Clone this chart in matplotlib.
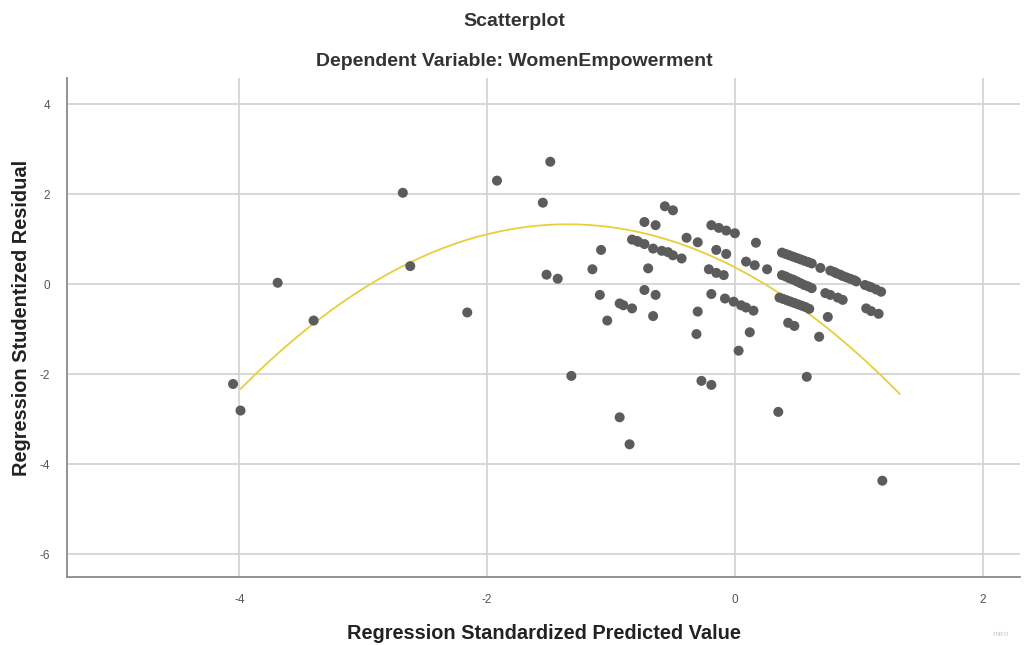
import matplotlib.pyplot as plt
import numpy as np

plt.rcParams['font.family'] = ['Liberation Sans', 'DejaVu Sans']
plt.rcParams['axes.unicode_minus'] = False

# predicted (x) and studentized residual (y)
pred = [-4.05, -3.99, -3.69, -3.40, -2.68, -2.62, -2.16, -1.92, -1.49, -1.55,
        -1.52, -1.43, -1.32, -1.15, -1.08, -1.09, -0.93, -0.90, -0.83, -1.03,
        -0.73, -0.64, -0.66, -0.70, -0.93, -0.85, -0.565, -0.50, -0.73, -0.64,
        -0.83, -0.78, -0.73, -0.66, -0.59, -0.50, -0.43, -0.39, -0.30, -0.19,
        -0.13, -0.07, 0.00, -0.15, -0.07, 0.09, 0.16, 0.26, 0.17, -0.21,
        -0.15, -0.09, -0.19, -0.08, -0.01, 0.05, 0.09, 0.15, -0.30, -0.31,
        0.12, 0.03, -0.27, -0.19,
        0.38, 0.41, 0.44, 0.47, 0.50, 0.53, 0.56, 0.59, 0.62, 0.69,
        0.77, 0.80, 0.82, 0.85, 0.87, 0.90, 0.93, 0.96, 0.98,
        1.05, 1.08, 1.10, 1.14, 1.18,
        0.38, 0.41, 0.44, 0.47, 0.50, 0.53, 0.56, 0.59, 0.62,
        0.73, 0.77, 0.83, 0.87,
        0.36, 0.39, 0.42, 0.45, 0.48, 0.51, 0.54, 0.57, 0.60,
        0.75, 1.06, 1.10, 1.16,
        0.43, 0.48, 0.68, 0.58, 0.35, 1.19, -0.54, -0.79]
resid = [-2.22, -2.81, 0.03, -0.81, 2.03, 0.40, -0.63, 2.30, 2.72, 1.81,
         0.21, 0.12, -2.04, 0.33, 0.76, -0.24, -0.43, -0.47, -0.54, -0.81,
         -0.13, -0.24, -0.71, 0.35, -2.96, -3.56, 1.73, 1.64, 1.38, 1.31,
         0.99, 0.94, 0.89, 0.79, 0.74, 0.64, 0.57, 1.03, 0.93, 1.31,
         1.25, 1.19, 1.13, 0.76, 0.67, 0.50, 0.42, 0.33, 0.92, 0.33,
         0.25, 0.20, -0.22, -0.32, -0.39, -0.47, -0.52, -0.59, -0.61, -1.11,
         -1.07, -1.48, -2.15, -2.24,
         0.70, 0.67, 0.64, 0.61, 0.58, 0.55, 0.52, 0.49, 0.46, 0.36,
         0.30, 0.27, 0.24, 0.21, 0.18, 0.15, 0.12, 0.09, 0.06,
         -0.02, -0.05, -0.07, -0.12, -0.17,
         0.20, 0.17, 0.13, 0.10, 0.06, 0.02, -0.02, -0.05, -0.09,
         -0.20, -0.24, -0.30, -0.35,
         -0.30, -0.33, -0.36, -0.39, -0.42, -0.45, -0.48, -0.51, -0.55,
         -0.73, -0.54, -0.60, -0.66,
         -0.86, -0.93, -1.17, -2.06, -2.84, -4.37, 0.71, 0.96]

# quadratic fit line as shown (coefficients)
fit_coef = [-0.525, -1.4175, 0.373]
fit_range = [-3.99, 1.33]

xticks = [-4, -2, 0, 2]
yticks = [4, 2, 0, -2, -4, -6]

fig = plt.figure(figsize=(10.25, 6.45), dpi=100)
ax = fig.add_axes([0.0654, 0.1054, 0.9296, 0.7736])

ax.set_xlim(-5.39, 2.30)
ax.set_ylim(-6.51, 4.58)
ax.set_xticks(xticks)
ax.set_yticks(yticks)
ax.grid(True, color='#d4d4d4', linewidth=1.3)
ax.set_axisbelow(True)

fx = np.linspace(fit_range[0], fit_range[1], 200)
ax.plot(fx, np.polyval(fit_coef, fx), color='#e6cf3c', linewidth=1.3, zorder=3)
ax.scatter(pred, resid, s=52, color='#5c5c5c', edgecolors='none', zorder=4)

for side in ('top', 'right'):
    ax.spines[side].set_visible(False)
for side in ('left', 'bottom'):
    ax.spines[side].set_color('#8a8a8a')
    ax.spines[side].set_linewidth(1.3)
ax.tick_params(length=0, labelsize=8.5, colors='#555555', pad=12)

ax.set_xlabel('Regression Standardized Predicted Value', fontsize=14.4,
              fontweight='bold', color='#222222', labelpad=13)
fig.text(0.021, 0.5075, 'Regression Studentized Residual', rotation=90,
         fontsize=14.4, fontweight='bold', color='#222222',
         ha='center', va='center')

fig.text(0.502, 0.966, 'Scatterplot', fontsize=14, fontweight='bold',
         color='#333333', ha='center', va='center')
fig.text(0.502, 0.904, 'Dependent Variable: WomenEmpowerment', fontsize=14,
         fontweight='bold', color='#333333', ha='center', va='center')
fig.text(0.976, 0.017, 'miro', fontsize=6, color='#cccccc',
         ha='center', va='center')

fig.savefig('out.png', dpi=100)
